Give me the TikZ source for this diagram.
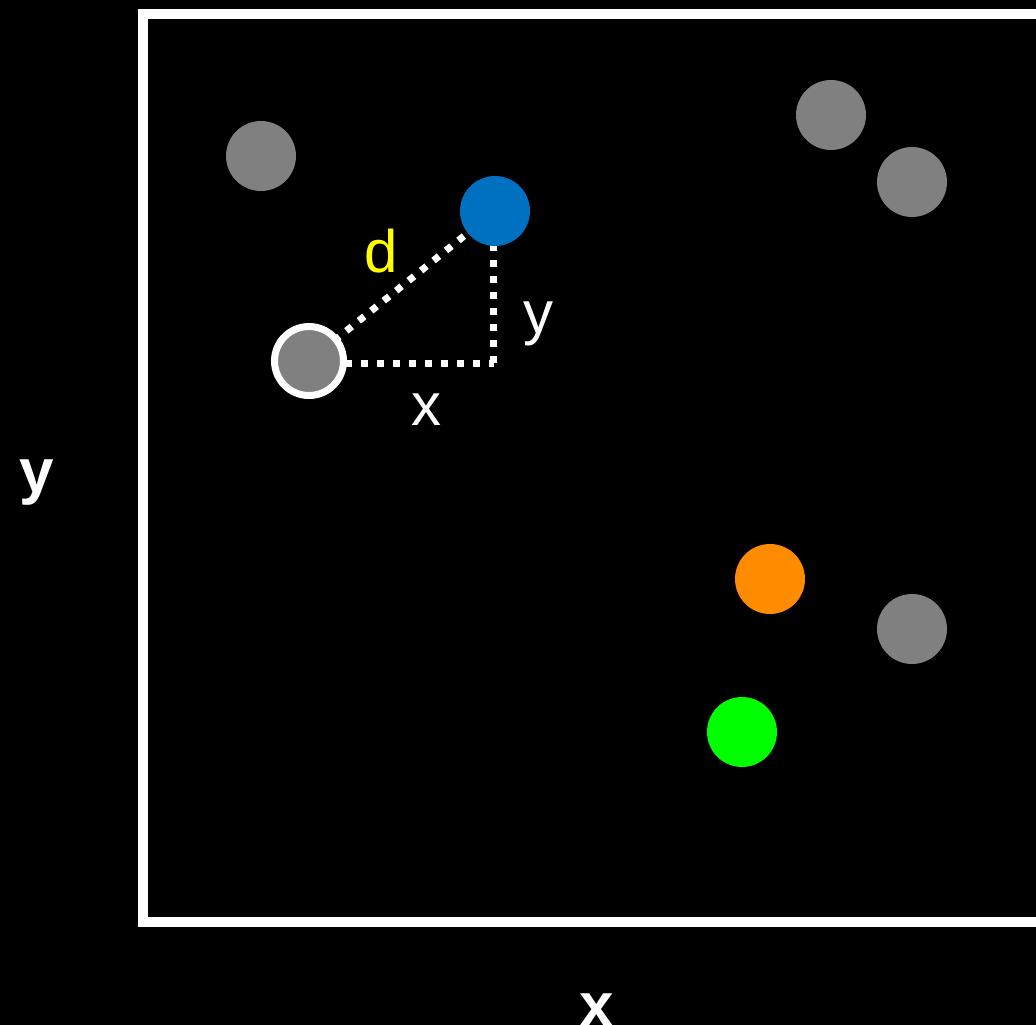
\documentclass[tikz,border=0pt]{standalone}
\usepackage{fontspec}
\setmainfont{Liberation Sans}
\pgfdeclarelayer{bg}
\pgfsetlayers{bg,main}
\begin{document}
\begin{tikzpicture}[x=1pt,y=-1pt,
  dot/.style={circle,inner sep=0pt,minimum size=70pt},
  graydot/.style={dot,fill={rgb,255:red,128;green,128;blue,128}},
  dotline/.style={draw=white,line width=7pt,dash pattern=on 7pt off 9pt},
  lbl/.style={font=\fontsize{60}{66}\selectfont,inner sep=0pt},
  axlbl/.style={font=\fontsize{62}{70}\selectfont\bfseries,inner sep=0pt,text=white}]
\useasboundingbox (0,0) rectangle (1036,1025);
\clip (0,0) rectangle (1036,1025);
% points
\node[graydot] (g1) at (261,156) {};
\node[graydot] (g2) at (831,115) {};
\node[graydot] (g3) at (912,182) {};
\node[dot,fill={rgb,255:red,0;green,112;blue,192}] (blue) at (495,211) {};
\node[graydot,draw=white,line width=7pt,minimum size=69pt] (sel) at (309,361) {};
\node[dot,fill={rgb,255:red,255;green,140;blue,0}] (orange) at (770,579) {};
\node[graydot] (g4) at (912,629) {};
\node[dot,fill={rgb,255:red,0;green,255;blue,0}] (green) at (742,732) {};
\coordinate (corner) at (493.5,363);
\coordinate (hstart) at (345,363);
\coordinate (vend) at (493.5,245);
\begin{pgfonlayer}{bg}
\fill[black] (0,0) rectangle (1036,1025);
\draw[white,line width=10pt] (143,14) rectangle (1060,922);
\draw[dotline] (sel.center) -- (blue.center);
\draw[dotline] (hstart) -- (corner);
\draw[dotline] (corner) -- (vend);
\end{pgfonlayer}
% labels
\node[lbl,text={rgb,255:red,255;green,255;blue,0}] (dl) at (381,251) {d};
\node[lbl,text=white] (yl) at (538,324) {y};
\node[lbl,text=white] (xl) at (426,410) {x};
\node[axlbl] (ay) at (37,483) {y};
\node[axlbl] (ax) at (597,1010) {x};
\end{tikzpicture}
\end{document}
